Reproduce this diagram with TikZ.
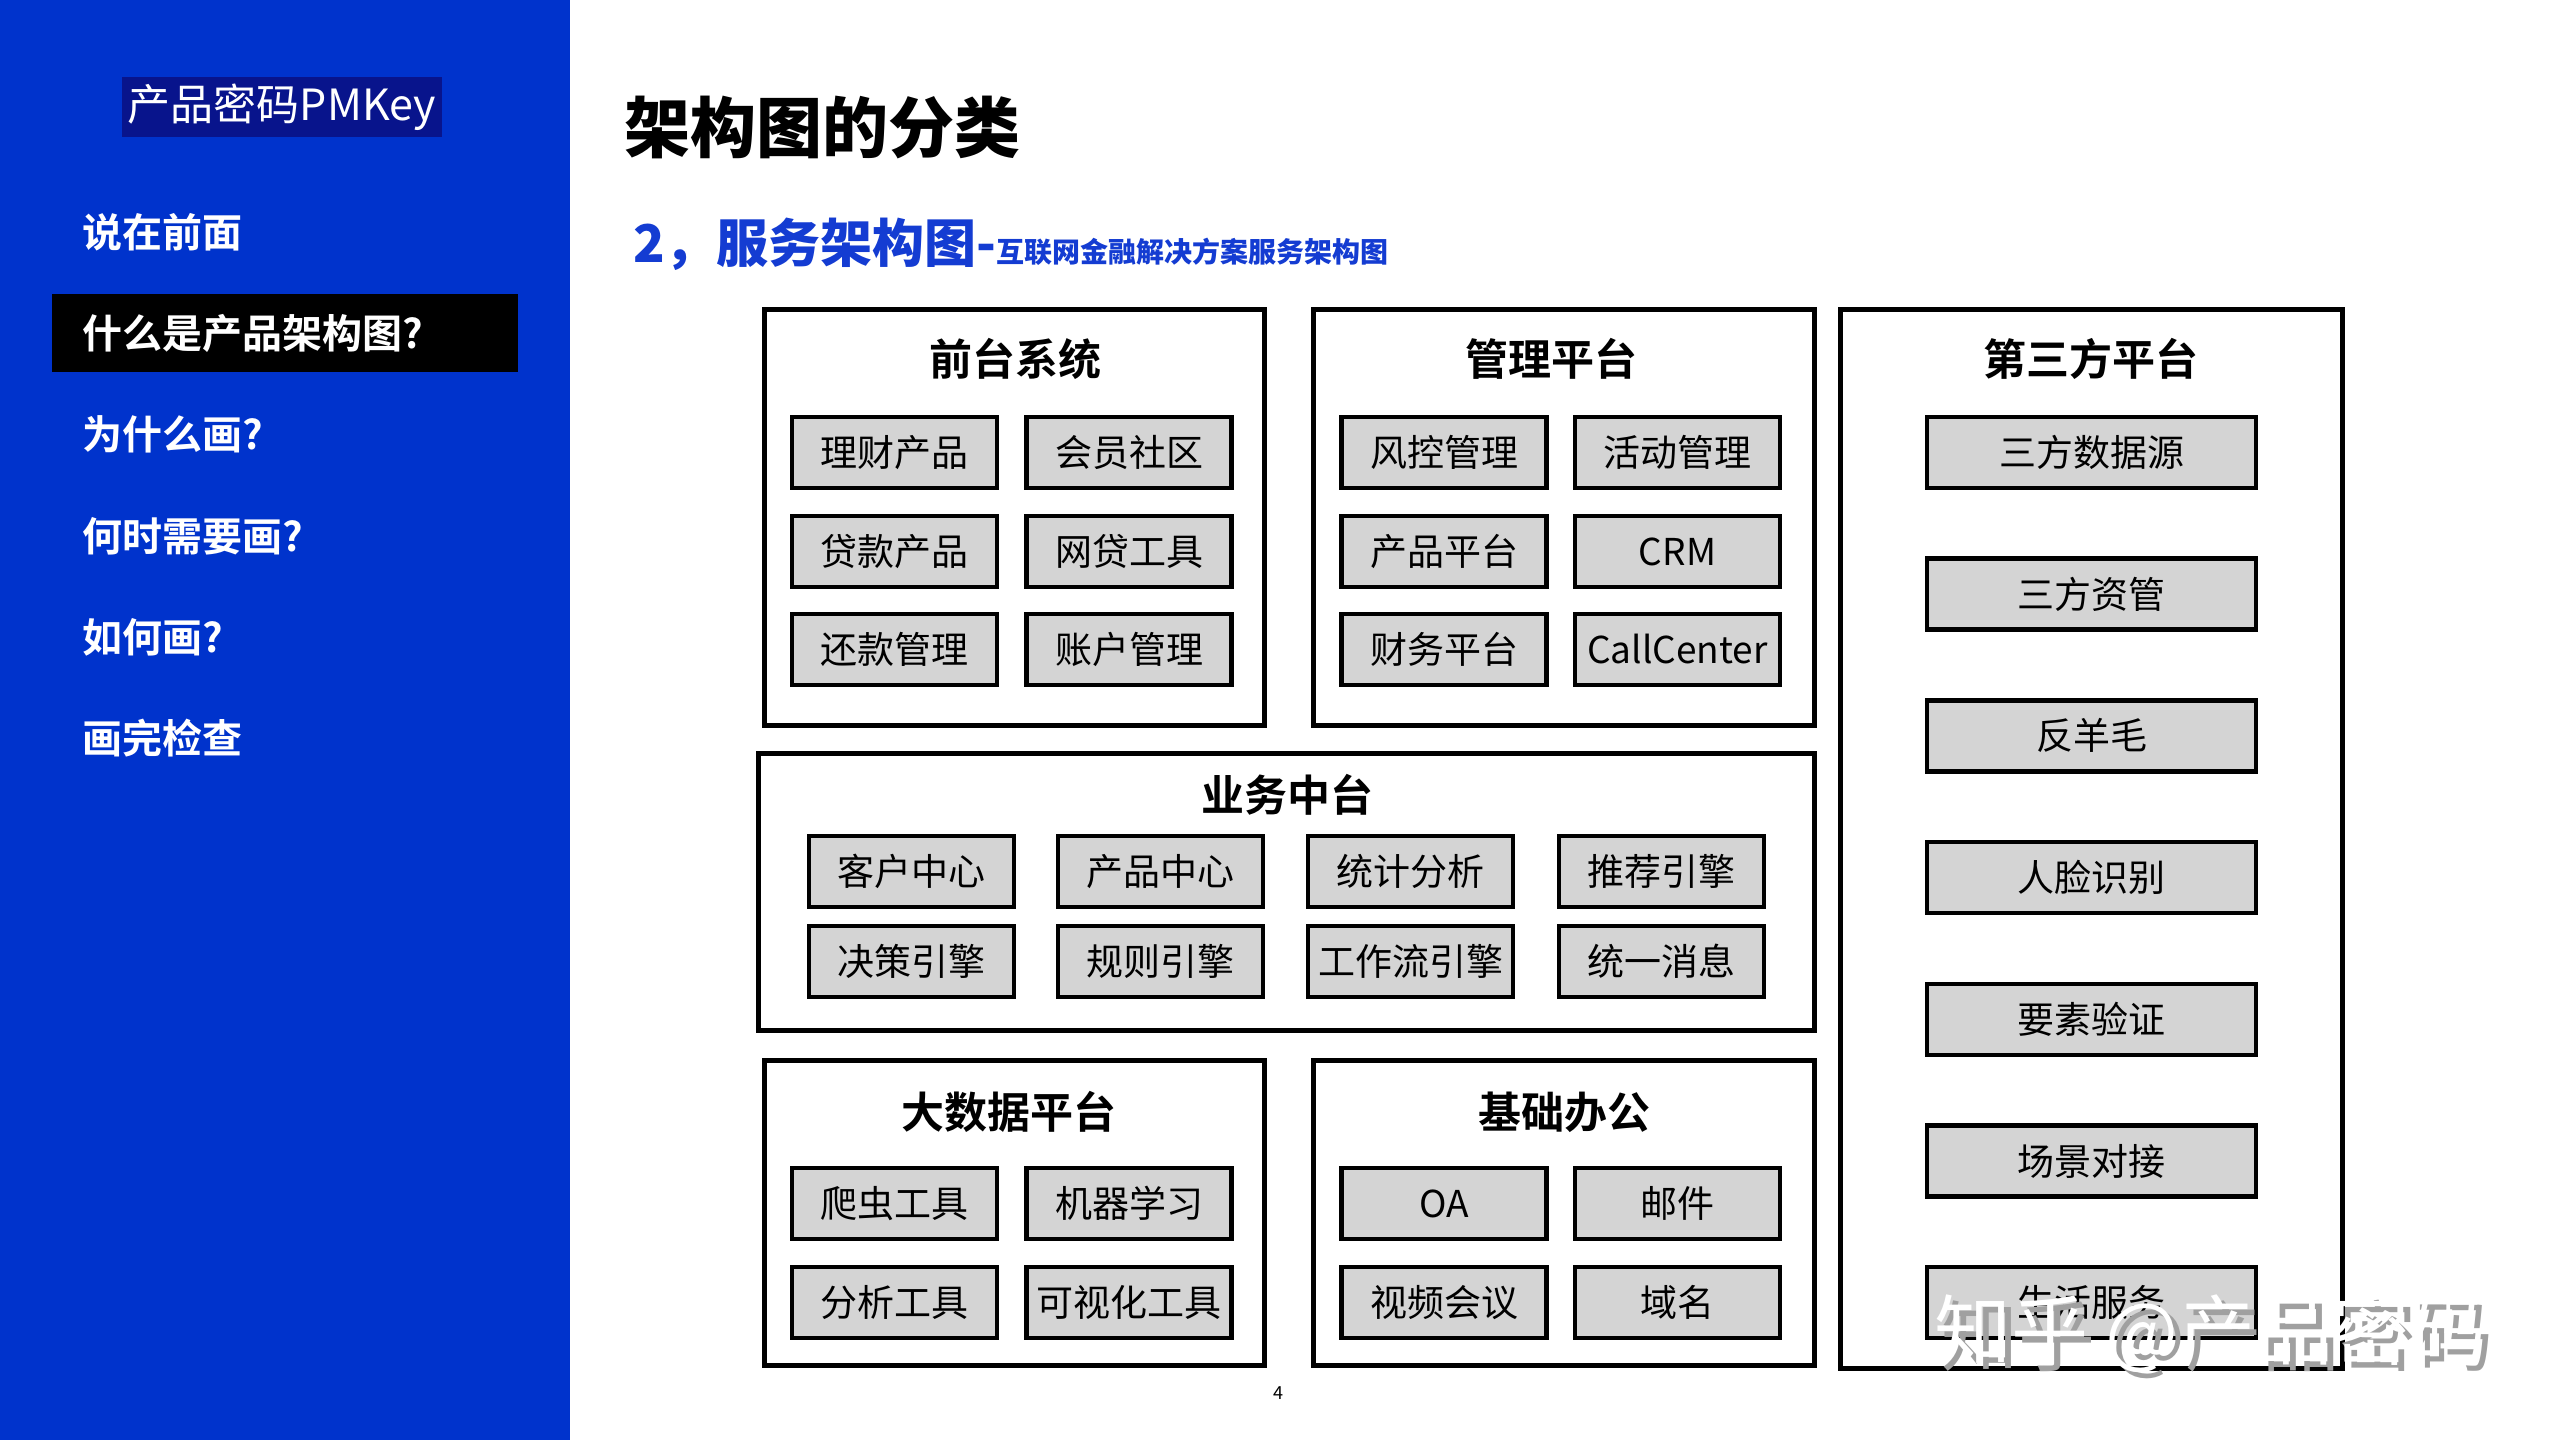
\documentclass[tikz,border=0pt]{standalone}
\usepackage{fontspec}
\setmainfont{Noto Sans CJK SC}[BoldFont={Noto Sans CJK SC Bold}]
\newfontfamily\heavyfont{Noto Sans CJK SC Black}
\definecolor{panelblue}{RGB}{0,51,204}
\definecolor{navybox}{RGB}{8,20,140}
\definecolor{subblue}{RGB}{20,60,210}
\definecolor{boxgray}{RGB}{212,212,212}
\definecolor{wmgray}{RGB}{160,160,160}
\tikzset{
  ibox/.style={draw=black, line width=4.5pt, fill=boxgray, inner sep=0pt,
    minimum height=71, minimum width=205, font=\fontsize{37}{44}\selectfont},
  tbox/.style={ibox, minimum width=329},
  obox/.style={draw=black, line width=4.5pt, fill=white, inner sep=0pt},
  otitle/.style={inner sep=0pt, font=\bfseries\fontsize{43}{50}\selectfont},
  menuitem/.style={anchor=west, inner sep=0pt, text=white, font=\bfseries\fontsize{40}{48}\selectfont},
  wmtext/.style={anchor=west, inner sep=0pt, font=\fontsize{77}{88}\selectfont},
}
\begin{document}
\begin{tikzpicture}[x=1pt,y=-1pt]
\useasboundingbox (0,0) rectangle (2560,1440);
\fill[white] (0,0) rectangle (2560,1440);
% left panel
\fill[panelblue] (0,0) rectangle (570,1440);
\node[fill=navybox, minimum width=320, minimum height=60, inner sep=0pt, text=white,
  font=\fontsize{43}{50}\selectfont] (brand) at (282,107) {产品密码PMKey};
\node[fill=black, minimum width=466, minimum height=78, inner sep=0pt] (hl) at (285,333) {};
\node[menuitem] (m1) at (82,232) {说在前面};
\node[menuitem] (m2) at (82,333) {什么是产品架构图?};
\node[menuitem] (m3) at (82,434) {为什么画?};
\node[menuitem] (m4) at (82,536) {何时需要画?};
\node[menuitem] (m5) at (82,637) {如何画?};
\node[menuitem] (m6) at (82,738) {画完检查};
% titles
\node[anchor=base west, inner sep=0pt, font=\heavyfont\fontsize{66}{76}\selectfont] (title) at (624,152) {架构图的分类};
\node[anchor=base west, inner sep=0pt, text=subblue, font=\heavyfont] (sub) at (633,262)
  {{\fontsize{52}{60}\selectfont 2，服务架构图-}{\fontsize{28}{32}\selectfont 互联网金融解决方案服务架构图}};
% outer boxes
\node[obox, minimum width=500, minimum height=416] (front) at (1014.5,517.5) {};
\node[obox, minimum width=501, minimum height=416] (mgmt) at (1564,517.5) {};
\node[obox, minimum width=502, minimum height=1059] (third) at (2091.5,839) {};
\node[obox, minimum width=1056, minimum height=277] (biz) at (1286.5,892) {};
\node[obox, minimum width=500, minimum height=305] (bigdata) at (1014.5,1213) {};
\node[obox, minimum width=501, minimum height=305] (office) at (1564,1213) {};
% box titles
\node[otitle] (tfront) at (1015,359) {前台系统};
\node[otitle] (tmgmt) at (1551,359) {管理平台};
\node[otitle] (tthird) at (2091,359) {第三方平台};
\node[otitle] (tbiz) at (1287,795) {业务中台};
\node[otitle] (tbig) at (1009,1112) {大数据平台};
\node[otitle] (toff) at (1564,1112) {基础办公};
% front system
\node[ibox] (f1) at (894.5,452.5) {理财产品};
\node[ibox] (f2) at (1129,452.5) {会员社区};
\node[ibox] (f3) at (894.5,551.5) {贷款产品};
\node[ibox] (f4) at (1129,551.5) {网贷工具};
\node[ibox] (f5) at (894.5,649.5) {还款管理};
\node[ibox] (f6) at (1129,649.5) {账户管理};
% management
\node[ibox] (g1) at (1444,452.5) {风控管理};
\node[ibox] (g2) at (1677.5,452.5) {活动管理};
\node[ibox] (g3) at (1444,551.5) {产品平台};
\node[ibox] (g4) at (1677.5,551.5) {CRM};
\node[ibox] (g5) at (1444,649.5) {财务平台};
\node[ibox] (g6) at (1677.5,649.5) {CallCenter};
% business middle
\node[ibox] (b1) at (911.5,871.5) {客户中心};
\node[ibox] (b2) at (1160.5,871.5) {产品中心};
\node[ibox] (b3) at (1410.5,871.5) {统计分析};
\node[ibox] (b4) at (1661.5,871.5) {推荐引擎};
\node[ibox] (b5) at (911.5,961.5) {决策引擎};
\node[ibox] (b6) at (1160.5,961.5) {规则引擎};
\node[ibox] (b7) at (1410.5,961.5) {工作流引擎};
\node[ibox] (b8) at (1661.5,961.5) {统一消息};
% big data
\node[ibox] (d1) at (894.5,1203.5) {爬虫工具};
\node[ibox] (d2) at (1129,1203.5) {机器学习};
\node[ibox] (d3) at (894.5,1302.5) {分析工具};
\node[ibox] (d4) at (1129,1302.5) {可视化工具};
% office
\node[ibox] (o1) at (1444,1203.5) {OA};
\node[ibox] (o2) at (1677.5,1203.5) {邮件};
\node[ibox] (o3) at (1444,1302.5) {视频会议};
\node[ibox] (o4) at (1677.5,1302.5) {域名};
% third party
\node[tbox] (p1) at (2091.5,452.5) {三方数据源};
\node[tbox] (p2) at (2091.5,594.2) {三方资管};
\node[tbox] (p3) at (2091.5,735.9) {反羊毛};
\node[tbox] (p4) at (2091.5,877.6) {人脸识别};
\node[tbox] (p5) at (2091.5,1019.3) {要素验证};
\node[tbox] (p6) at (2091.5,1161.0) {场景对接};
\node[tbox] (p7) at (2091.5,1302.7) {生活服务};
% page number
\node[inner sep=0pt, font=\fontsize{18}{22}\selectfont] (pg) at (1278,1393) {4};
% watermark
\node[wmtext, text=wmgray] (wms) at (1941,1339) {知乎 @产品密码};
\node[wmtext, text=white] (wm) at (1934,1333) {知乎 @产品密码};
\end{tikzpicture}
\end{document}
